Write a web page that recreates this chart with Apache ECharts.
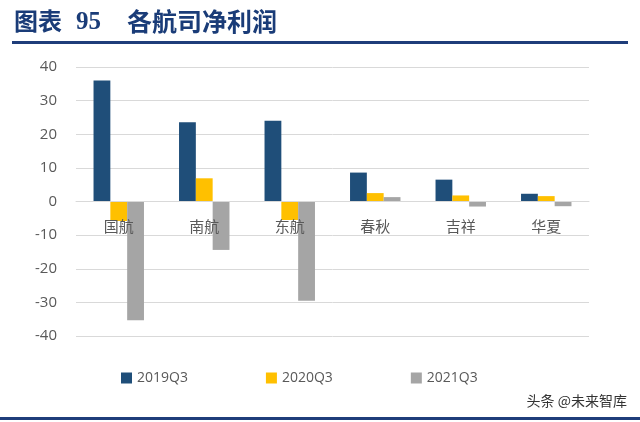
<!DOCTYPE html>
<html><head><meta charset="utf-8">
<script src="https://cdn.jsdelivr.net/npm/echarts@6/dist/echarts.min.js"></script>
<style>html,body{margin:0;padding:0;background:#fff}#c{width:640px;height:422px}</style>
</head><body><div id="c"></div>
<script>
var categories = ['国航','南航','东航','春秋','吉祥','华夏'];
var seriesNames = ['2019Q3','2020Q3','2021Q3'];
var v2019 = [36.0, 23.6, 24.0, 8.6, 6.5, 2.3];
var v2020 = [-5.8, 6.9, -5.5, 2.5, 1.8, 1.6];
var v2021 = [-35.3, -14.4, -29.5, 1.3, -1.5, -1.4];
var yTicks = {min:-40, max:40, interval:10};
var titleLabel = '图表';
var titleNumber = '95';
var titleText = '各航司净利润';
var sourceText = '头条 @未来智库';

var colors = ['#1f4e79','#ffc000','#a5a5a5'];
var values = [v2019, v2020, v2021];
var chart = echarts.init(document.getElementById('c'), null, {renderer:'canvas'});
var series = seriesNames.map(function(n,i){
  return {name:n, type:'bar', data:values[i], barGap:'0%', barCategoryGap:'41%',
    itemStyle:{color:colors[i]}, z:2};
});
var gridTop = 67, gridBottom = 86, H = 422;
var plotH = H - gridTop - gridBottom;
var zeroOffset = -plotH * (0 - yTicks.min) / (yTicks.max - yTicks.min);
chart.setOption({
  animation:false,
  textStyle:{fontFamily:'"Noto Sans CJK SC", "Open Sans", sans-serif'},
  grid:{left:76, right:51, top:gridTop, bottom:gridBottom},
  legend:{left:116, top:366, itemWidth:11, itemHeight:11, itemGap:78, icon:'rect',
    textStyle:{color:'#595959', fontSize:14, fontFamily:'"Open Sans", sans-serif'},
    data:seriesNames},
  xAxis:{type:'category', data:categories, z:5, position:'bottom', offset:zeroOffset,
    axisLine:{onZero:false, lineStyle:{color:'#d9d9d9', width:1}},
    axisTick:{show:false},
    axisLabel:{color:'#595959', fontSize:15, margin:17, fontFamily:'"Noto Sans CJK SC", sans-serif'}},
  yAxis:{type:'value', min:yTicks.min, max:yTicks.max, interval:yTicks.interval,
    axisLine:{show:false}, axisTick:{show:false},
    axisLabel:{color:'#595959', fontSize:15, margin:19, fontFamily:'"Open Sans", sans-serif'},
    splitLine:{lineStyle:{color:'#d9d9d9', width:1}}},
  series:series,
  graphic:[
    {type:'text', left:14, top:9, style:{text:titleLabel, fill:'#1a3c78',
      font:'bold 24px "Noto Sans CJK SC", serif'}},
    {type:'text', left:76, top:10, style:{text:titleNumber, fill:'#1a3c78',
      font:'bold 25px "Liberation Serif", serif'}},
    {type:'text', left:127, top:9, style:{text:titleText, fill:'#1a3c78',
      font:'bold 25px "Noto Sans CJK SC", serif'}},
    {type:'rect', shape:{x:12, y:41, width:616, height:3}, style:{fill:'#1f3d7a'}},
    {type:'text', right:13, top:394, style:{text:sourceText, fill:'#333333',
      font:'14px "Noto Sans CJK SC", sans-serif'}},
    {type:'rect', shape:{x:0, y:417, width:640, height:3}, style:{fill:'#1f3d7a'}}
  ]
});
</script></body></html>
